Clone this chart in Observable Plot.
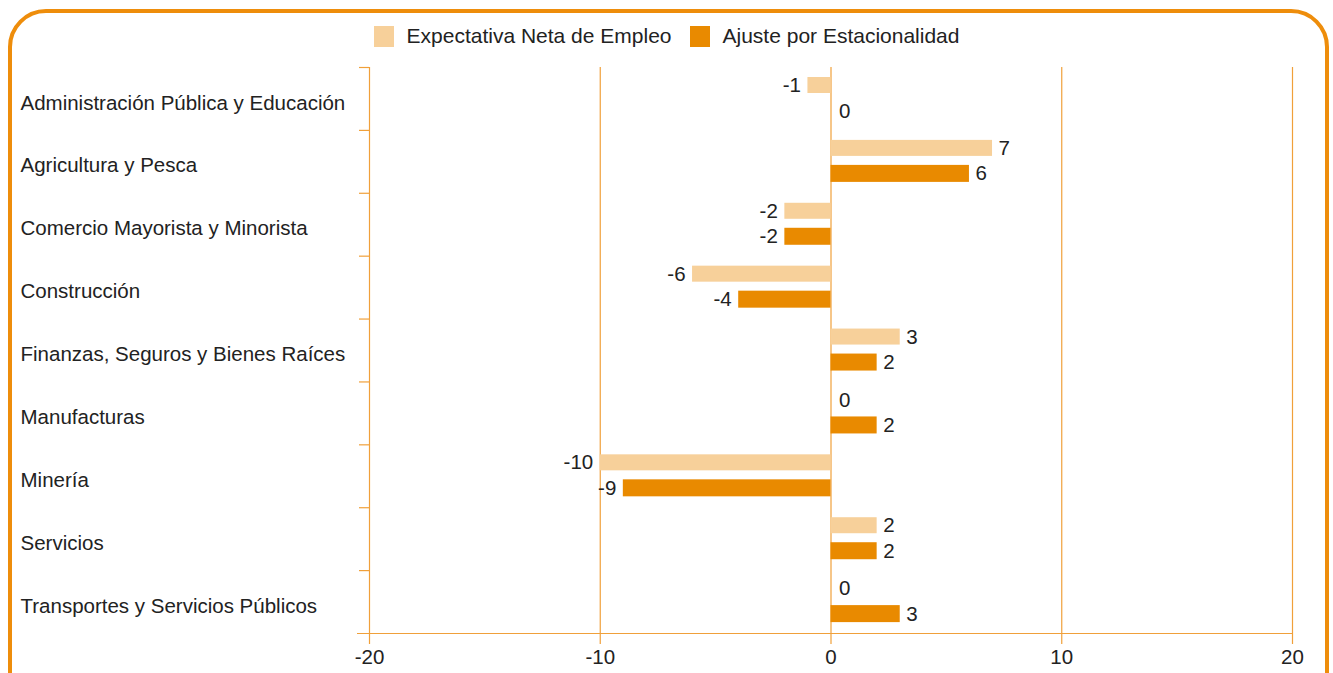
<!DOCTYPE html>
<html>
<head>
<meta charset="utf-8">
<script src="https://cdn.jsdelivr.net/npm/d3@7"></script>
<script src="https://cdn.jsdelivr.net/npm/@observablehq/plot@0.6"></script>
<style>
  html, body { margin: 0; padding: 0; background: #fff; }
  #wrap { position: relative; width: 1333px; height: 673px; overflow: hidden; font-family: "Liberation Sans", Arial, sans-serif; }
  #border { position: absolute; left: 8px; top: 9px; width: 1321px; height: 720px; box-sizing: border-box; border: 4px solid #EE8D0B; border-radius: 38px; }
  #legend { position: absolute; top: 24px; left: 0; width: 1333px; display: flex; justify-content: center; align-items: center; font-size: 21px; color: #222; }
  .item { display: flex; align-items: center; margin: 0 9px; }
  .sw { width: 20px; height: 21px; margin-right: 13px; }
  #chart { position: absolute; left: 0; top: 50px; line-height: 0; }
  #chart svg { display: block; }
</style>
</head>
<body>
<div id="wrap">
  <div id="border"></div>
  <div id="legend"></div>
  <div id="chart"></div>
</div>
<script>
const categories = [
  "Administración Pública y Educación",
  "Agricultura y Pesca",
  "Comercio Mayorista y Minorista",
  "Construcción",
  "Finanzas, Seguros y Bienes Raíces",
  "Manufacturas",
  "Minería",
  "Servicios",
  "Transportes y Servicios Públicos"
];
const seriesNames = ["Expectativa Neta de Empleo", "Ajuste por Estacionalidad"];
const expectativa = [-1, 7, -2, -6, 3, 0, -10, 2, 0];
const ajuste = [0, 6, -2, -4, 2, 2, -9, 2, 3];
const xTicks = [-20, -10, 0, 10, 20];

const colors = ["#F7D09A", "#E98A00"];
const grid = "#F0A03A";
const textColor = "#222";

const rows = [];
categories.forEach((c, i) => {
  rows.push({category: c, series: seriesNames[0], value: expectativa[i]});
  rows.push({category: c, series: seriesNames[1], value: ajuste[i]});
});

// legend
const legend = document.getElementById("legend");
seriesNames.forEach((s, i) => {
  const it = document.createElement("div");
  it.className = "item";
  it.innerHTML = `<div class="sw" style="background:${colors[i]}"></div><span>${s}</span>`;
  legend.appendChild(it);
});

const W = 1333, H = 623, mT = 17, mB = 40;
const step = (H - mT - mB) / categories.length;
const barH = [16, 17];
const insets = [
  {insetTop: 10, insetBottom: step - 10 - barH[0]},
  {insetTop: 35, insetBottom: step - 35 - barH[1]}
];
const dys = [10 + barH[0] / 2 - step / 2, 35 + barH[1] / 2 - step / 2];
const fs = 20.5;

const marks = [
  Plot.ruleX(xTicks, {stroke: grid, strokeWidth: 1.2, insetBottom: -11}),
  Plot.axisY({tickSize: 10, tickFormat: () => "", dy: -step / 2, stroke: grid, strokeWidth: 1.2, label: null}),
  Plot.ruleY([categories[categories.length - 1]], {dy: step / 2, insetLeft: -12, stroke: grid, strokeWidth: 1.2}),
  Plot.axisY({tickSize: 0, tickPadding: 0, textAnchor: "start", dx: -349, dy: 4, fontSize: fs, fill: textColor, label: null}),
  Plot.axisX({ticks: xTicks, tickFormat: d => String(d), tickSize: 0, tickPadding: 16, fontSize: fs, fill: textColor, label: null})
];

seriesNames.forEach((s, i) => {
  const d = rows.filter(r => r.series === s);
  marks.push(Plot.barX(d, {x: "value", y: "category", fill: colors[i], ...insets[i]}));
  marks.push(Plot.text(d.filter(r => r.value > 0), {x: "value", y: "category", text: r => String(r.value), dx: 6, dy: dys[i], textAnchor: "start", fontSize: fs, fill: textColor}));
  marks.push(Plot.text(d.filter(r => r.value === 0), {x: "value", y: "category", text: r => String(r.value), dx: 8, dy: dys[i], textAnchor: "start", fontSize: fs, fill: textColor}));
  marks.push(Plot.text(d.filter(r => r.value < 0), {x: "value", y: "category", text: r => String(r.value), dx: -7, dy: dys[i], textAnchor: "end", fontSize: fs, fill: textColor}));
});

const chart = Plot.plot({
  width: W,
  height: H,
  marginTop: mT,
  marginBottom: mB,
  marginLeft: 369,
  marginRight: 41,
  x: {domain: [-20, 20], axis: null},
  y: {domain: categories, padding: 0, round: false, axis: null},
  style: {fontFamily: "'Liberation Sans', Arial, sans-serif", fontSize: fs + "px", color: textColor, background: "transparent", overflow: "visible"},
  marks
});
document.getElementById("chart").appendChild(chart);
</script>
</body>
</html>
